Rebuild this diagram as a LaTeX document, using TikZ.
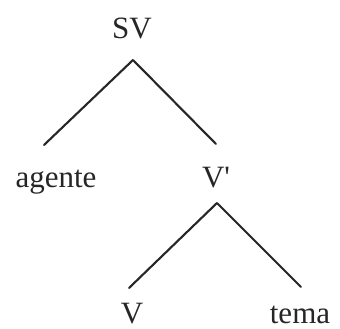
\documentclass[tikz,border=0pt]{standalone}
\usepackage{fontspec}
\setmainfont{Liberation Serif}
\begin{document}
\begin{tikzpicture}[x=1pt,y=-1pt,
  lbl/.style={font=\fontsize{31}{31}\selectfont, inner sep=0pt, anchor=base, text=black!85},
  branch/.style={line width=2.1pt, black!85, line cap=round, line join=round}]
  % canvas
  \fill[white] (0,0) rectangle (340,329);
  \useasboundingbox (0,0) rectangle (340,329);

  % labels
  \node[lbl] (sv) at (132,39) {SV};
  \node[lbl] (ag) at (56,187) {agente};
  \node[lbl] (vb) at (216,187) {V\textquotesingle};
  \node[lbl] (v)  at (132,323) {V};
  \node[lbl] (tm) at (300,323) {tema};

  % branch ends
  \coordinate (sv-foot) at (133,60);
  \coordinate (ag-head) at (44,145);
  \coordinate (vb-head) at (216,144);
  \coordinate (vb-foot) at (217,203);
  \coordinate (v-head)  at (129,288);
  \coordinate (tm-head) at (301,287);

  % branches
  \draw[branch] (ag-head) -- (sv-foot) -- (vb-head);
  \draw[branch] (v-head) -- (vb-foot) -- (tm-head);
\end{tikzpicture}
\end{document}
